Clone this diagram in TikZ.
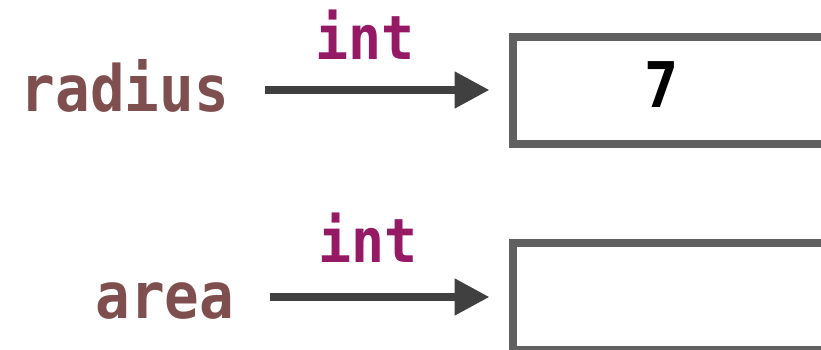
\documentclass[tikz,border=0pt]{standalone}
\usepackage{fontspec}
\newfontfamily\monobf[FakeStretch=0.9]{DejaVu Sans Mono Bold}
\usetikzlibrary{arrows.meta,calc}
\definecolor{varbrown}{HTML}{7F4F4F}
\definecolor{typepurple}{HTML}{961966}
\definecolor{arrowgray}{HTML}{404040}
\definecolor{boxgray}{HTML}{606060}
\tikzset{
  varlbl/.style={font=\monobf\fontsize{64}{64}\selectfont, text=varbrown, inner sep=0pt, anchor=base},
  typelbl/.style={font=\monobf\fontsize{61}{61}\selectfont, text=typepurple, inner sep=0pt, anchor=base},
  vallbl/.style={font=\monobf\fontsize{63}{63}\selectfont, text=black, inner sep=0pt, anchor=base},
  membox/.style={draw=boxgray, line width=8pt, fill=white, minimum width=400pt, minimum height=107pt, outer sep=0pt, inner sep=0pt, anchor=north west},
  refarrow/.style={draw=arrowgray, line width=8pt, -{Triangle[length=35pt,width=35pt]}}
}
\begin{document}
\begin{tikzpicture}[x=1pt,y=1pt]
\useasboundingbox (0,0) rectangle (821,-350);
\clip (0,0) rectangle (821,-350);
% boxes
\node[membox] (box1) at (512.5,-36.7) {};
\node[membox] (box2) at (512.5,-243) {};
% variable names
\node[varlbl] (radius) at (125,-111) {radius};
\node[varlbl] (area) at (165,-318) {area};
% types
\node[typelbl] (int1) at (365,-60) {int};
\node[typelbl] (int2) at (368,-262) {int};
% value
\node[vallbl] (seven) at (662,-107) {7};
% arrows
\coordinate (s1) at (265,-90);
\coordinate (s2) at (270,-297);
\draw[refarrow] (s1) -- (s1 -| {$(box1.west)+(-23,0)$});
\draw[refarrow] (s2) -- (s2 -| {$(box2.west)+(-23,0)$});
\end{tikzpicture}
\end{document}
